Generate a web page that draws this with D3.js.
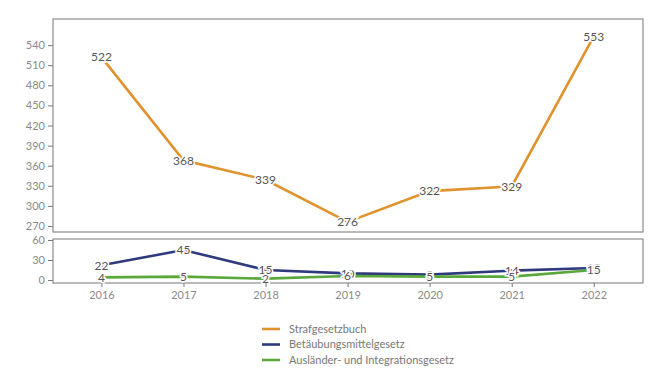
<!DOCTYPE html>
<html lang="de">
<head>
<meta charset="UTF-8">
<title>Chart</title>
<style>
  body { margin: 0; background: #fff; }
  svg text { font-family: Lato, "Noto Sans", sans-serif; }
</style>
</head>
<body>
<svg width="670" height="383"></svg>
<script src="https://d3js.org/d3.v7.min.js"></script>
<script>
var years = [2016, 2017, 2018, 2019, 2020, 2021, 2022];
var stgb = [522, 368, 339, 276, 322, 329, 553];
var btmg = [22, 45, 15, 10, 8, 14, 18];
var aufg = [4, 5, 2, 6, 5, 5, 15];
var seriesNames = ["Strafgesetzbuch", "Betäubungsmittelgesetz", "Ausländer- und Integrationsgesetz"];
var colors = ["#e0922c", "#2f3a7c", "#5aa83c"];
var topTicks = [270, 300, 330, 360, 390, 420, 450, 480, 510, 540];
var bottomTicks = [0, 30, 60];

var svg = d3.select("svg");
var left = 53, right = 643;

var x = d3.scaleLinear().domain([2015.41, 2022.6]).range([left, right]);
var yTop = d3.scaleLinear().domain([261, 579]).range([232, 19]);
var yBot = d3.scaleLinear().domain([-4.5, 61.5]).range([283, 239]);

function panel(y, ticks) {
  var g = svg.append("g");
  var ax = g.append("g")
    .attr("transform", "translate(" + left + ",0)")
    .call(d3.axisLeft(y).tickValues(ticks).tickSize(5).tickPadding(3));
  ax.select(".domain").remove();
  ax.selectAll("line").attr("stroke", "#777");
  ax.selectAll("text").attr("fill", "#8a8a8a").style("font-size", "11px");
  g.append("rect")
    .attr("x", left).attr("y", y.range()[1])
    .attr("width", right - left).attr("height", y.range()[0] - y.range()[1])
    .attr("fill", "none").attr("stroke", "#8c8c8c").attr("stroke-width", 1.2);
  return g;
}

var gTop = panel(yTop, topTicks);
var gBot = panel(yBot, bottomTicks);

// x axis under the bottom panel
var xa = svg.append("g")
  .attr("transform", "translate(0,283)")
  .call(d3.axisBottom(x).tickValues(years).tickFormat(d3.format("d")).tickSize(4).tickPadding(4));
xa.select(".domain").remove();
xa.selectAll("line").attr("stroke", "#777");
xa.selectAll("text").attr("fill", "#8a8a8a").style("font-size", "11px");

function drawSeries(g, y, vals, color) {
  var line = d3.line().x(function(d, i) { return x(years[i]); }).y(function(d) { return y(d); });
  g.append("path").datum(vals)
    .attr("d", line).attr("fill", "none")
    .attr("stroke", color).attr("stroke-width", 2.6);
}
function drawLabels(g, y, vals) {
  g.selectAll(null).data(vals).enter().append("text")
    .attr("x", function(d, i) { return x(years[i]); })
    .attr("y", function(d) { return y(d); })
    .attr("dy", "0.35em")
    .attr("text-anchor", "middle")
    .attr("fill", "#555")
    .attr("stroke", "#fff").attr("stroke-width", 3).attr("paint-order", "stroke")
    .style("font-size", "12px")
    .text(function(d) { return d; });
}

drawSeries(gTop, yTop, stgb, colors[0]);
drawLabels(gTop, yTop, stgb);
drawSeries(gBot, yBot, btmg, colors[1]);
drawSeries(gBot, yBot, aufg, colors[2]);
drawLabels(gBot, yBot, btmg);
drawLabels(gBot, yBot, aufg);

// legend
var lg = svg.append("g").attr("transform", "translate(262,329)");
seriesNames.forEach(function(n, i) {
  lg.append("line").attr("x1", 0).attr("x2", 18).attr("y1", i * 15.5).attr("y2", i * 15.5)
    .attr("stroke", colors[i]).attr("stroke-width", 2.6);
  lg.append("text").attr("x", 27).attr("y", i * 15.5).attr("dy", "0.35em")
    .attr("fill", "#777").style("font-size", "11px").text(n);
});
</script>
</body>
</html>
